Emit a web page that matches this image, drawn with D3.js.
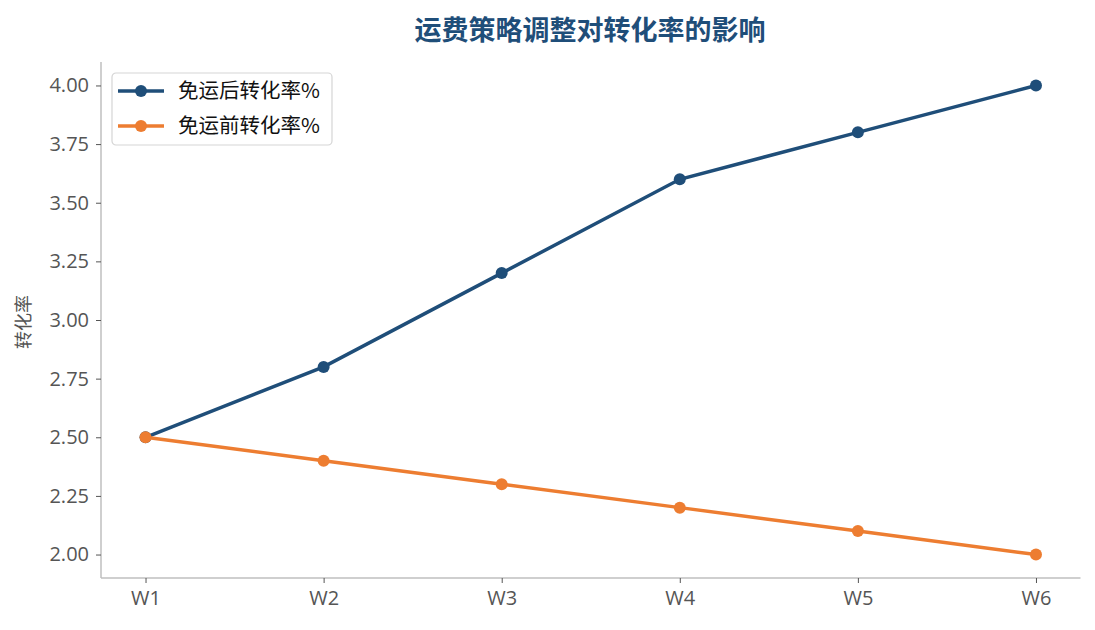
<!DOCTYPE html>
<html><head><meta charset="utf-8">
<script src="https://cdn.jsdelivr.net/npm/d3@7"></script>
<style>body{margin:0;background:#fff}</style>
</head><body>
<svg id="c" width="1095" height="630"></svg>
<script>
const categories = ["W1","W2","W3","W4","W5","W6"];
const afterVals = [2.5,2.8,3.2,3.6,3.8,4.0];
const beforeVals = [2.5,2.4,2.3,2.2,2.1,2.0];
const seriesNames = ["免运后转化率%","免运前转化率%"];
const colors = ["#1f4e79","#ed7d31"];
const yTicks = [2.0,2.25,2.5,2.75,3.0,3.25,3.5,3.75,4.0];
const title = "运费策略调整对转化率的影响";
const yLabel = "转化率";

const svg = d3.select("#c");
const L=101,R=1080.5,T=62,B=578;
const x = d3.scaleLinear().domain([-0.25,5.25]).range([L,R]);
const y = d3.scaleLinear().domain([1.9,4.1]).range([B,T]);
const font = "'Open Sans','Noto Sans CJK SC',sans-serif";
const cjk = "'Noto Sans CJK SC',sans-serif";

svg.append("text").attr("x",590).attr("y",40).attr("text-anchor","middle")
  .attr("font-family",cjk).attr("font-weight","bold").attr("font-size",27)
  .attr("fill","#1f4e79").text(title);

const ya = svg.append("g").attr("transform",`translate(${L},0)`)
  .call(d3.axisLeft(y).tickValues(yTicks).tickFormat(d3.format(".2f")).tickSize(5).tickPadding(7));
const xa = svg.append("g").attr("transform",`translate(0,${B})`)
  .call(d3.axisBottom(x).tickValues(d3.range(categories.length)).tickFormat(i=>categories[i]).tickSize(5).tickPadding(8));
[ya,xa].forEach(g=>{
  g.selectAll(".domain").attr("stroke","#bfbfbf").attr("stroke-width",1.5);
  g.selectAll(".tick line").attr("stroke","#555").attr("stroke-width",1);
  g.selectAll("text").attr("font-family",font).attr("font-size",20).attr("fill","#555");
});
xa.select(".domain").attr("d",`M${L},0H${R}`);
ya.select(".domain").attr("d",`M0,${T}V${B}`);

svg.append("text").attr("transform","translate(30,322) rotate(-90)")
  .attr("text-anchor","middle").attr("font-family",cjk).attr("font-size",18)
  .attr("fill","#555").text(yLabel);

const data=[afterVals,beforeVals];
const line=d3.line().x((d,i)=>x(i)).y(d=>y(d));
data.forEach((vals,k)=>{
  svg.append("path").attr("d",line(vals)).attr("fill","none")
    .attr("stroke",colors[k]).attr("stroke-width",3.5);
  svg.append("g").selectAll("circle").data(vals).join("circle")
    .attr("cx",(d,i)=>x(i)).attr("cy",d=>y(d)).attr("r",6).attr("fill",colors[k]);
});

const lg = svg.append("g").attr("transform","translate(112,73)");
lg.append("rect").attr("width",220).attr("height",72).attr("rx",4)
  .attr("fill","#fff").attr("stroke","#d5d5d5").attr("stroke-width",1.2);
seriesNames.forEach((n,k)=>{
  const yy=18+k*35;
  lg.append("line").attr("x1",6).attr("x2",52).attr("y1",yy).attr("y2",yy)
    .attr("stroke",colors[k]).attr("stroke-width",3.5);
  lg.append("circle").attr("cx",29).attr("cy",yy).attr("r",6).attr("fill",colors[k]);
  lg.append("text").attr("x",66).attr("y",yy+7).attr("font-family",cjk)
    .attr("font-size",20.5).attr("fill","#111").text(n);
});
</script>
</body></html>
